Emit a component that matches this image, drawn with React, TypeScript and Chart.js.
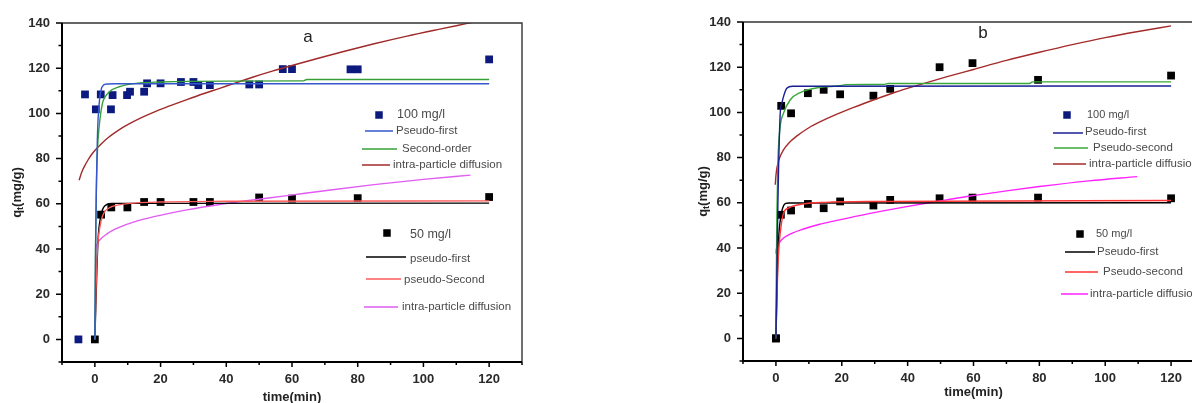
import React, { useEffect, useRef } from 'react';
import { Chart, registerables } from 'chart.js';
Chart.register(...registerables);

// ---------- Panel a data ----------
const aT100 = [-5, -3, 0.3, 1.8, 4.9, 5.4, 9.8, 10.7, 15, 15.9, 20, 26.2, 30, 31.5, 35, 47, 50, 57.2, 60, 77.8, 80, 120];
const aQ100 = [0, 108.4, 101.8, 108.4, 101.8, 108.1, 108.1, 109.6, 109.6, 113.3, 113.3, 113.9, 113.9, 112.5, 112.5, 112.8, 112.8, 119.6, 119.6, 119.5, 119.5, 123.9];
const aT50 = [0, 1.9, 5, 9.9, 15, 20, 30, 35, 50, 60, 80, 120];
const aQ50 = [0, 55.2, 58.4, 58.4, 60.8, 60.8, 60.8, 60.8, 62.8, 62.3, 62.5, 63];

const aPF100T = [0, 0.25, 0.5, 0.75, 1, 1.5, 2, 2.5, 3, 4, 6, 120];
const aPF100Q = [0, 44, 71, 88, 98, 107, 111, 112.3, 112.8, 113, 113.1, 113.1];
const aPS100T = [0, 0.1, 0.2, 0.4, 0.8, 1.3, 2.3, 3, 4.4, 7.4, 12.5, 20, 40, 63.5, 64.5, 120];
const aPS100Q = [0, 20, 40, 62, 83.7, 94, 104.4, 107, 109.6, 111.8, 113.3, 113.9, 114.3, 114.4, 115, 115];
const aID100T = [-4.8, -4, -3, -2, -1, 0, 2, 4, 7, 10, 14, 18, 23, 28, 33, 38, 42, 48, 54, 60, 68, 76, 85, 95, 105, 113, 117];
const aID100Q = [70.4, 74, 77, 79.6, 81.8, 83.6, 86.6, 89.2, 92.4, 95.0, 98.0, 100.6, 103.4, 106.1, 108.7, 111.1, 113.1, 116.0, 118.7, 121.2, 124.4, 127.5, 130.8, 134.2, 137.3, 139.7, 140.9];

const aPF50T = [0, 0.3, 0.6, 1, 1.5, 2, 2.5, 3, 3.8, 5, 120];
const aPF50Q = [0, 15, 30, 45, 52, 56, 58, 59, 59.8, 60.2, 60.3];
const aPS50T = [0, 0.3, 0.6, 1, 1.5, 2.2, 3, 4.5, 6.8, 10, 20, 40, 120];
const aPS50Q = [0, 20, 35, 44, 49.5, 54, 56.5, 58.3, 59.4, 60.1, 60.8, 61.1, 61.3];
const aID50T = [0.2, 0.5, 1.5, 3.8, 7.8, 12, 18, 28, 38, 48, 58, 70, 85, 100, 114.3];
const aID50Q = [38.7, 41.6, 44, 46.8, 49.8, 52, 54.3, 57.3, 59.7, 61.7, 63.5, 65.8, 68.5, 70.8, 72.7];

// ---------- Panel b data ----------
const bT100 = [0, 1.6, 4.6, 9.7, 14.5, 19.5, 29.6, 34.7, 49.7, 59.7, 79.6, 120];
const bQ100 = [0, 102.9, 99.6, 108.5, 110, 108, 107.4, 110.4, 120, 121.8, 114.4, 116.3];
const bT50 = [0, 1.5, 4.6, 9.7, 14.5, 19.5, 29.6, 34.7, 49.7, 59.7, 79.6, 120];
const bQ50 = [0, 54.7, 56.6, 59.5, 57.6, 60.6, 58.8, 61.3, 62, 62.3, 62.3, 62];

const bPF100T = [0, 0.3, 0.6, 0.8, 1.3, 1.8, 2.3, 3.3, 5, 120];
const bPF100Q = [0, 30, 60, 75, 99.6, 104, 107, 110.7, 111.6, 111.7];
const bPS100T = [0, 0.1, 0.3, 0.6, 1.3, 2.3, 4.3, 7.4, 13.5, 20, 21, 33, 34, 77, 78, 120];
const bPS100Q = [0, 25, 55, 78, 93.7, 99.6, 105.5, 108.8, 111.1, 111.9, 112.3, 112.4, 112.8, 112.8, 113.5, 113.5];
const bID100T = [-0.2, 0, 0.3, 1, 2.3, 4, 6.4, 10, 13.5, 18, 23.6, 30, 36, 44, 52, 60, 70, 80, 90, 100, 110, 120];
const bID100Q = [68, 72, 75.5, 79.5, 83.4, 86.6, 89.6, 93.2, 95.9, 98.9, 102.2, 105.7, 108.8, 112.4, 115.8, 119, 123, 126.6, 130, 133.1, 135.8, 138.3];

const bPF50T = [0, 0.3, 0.6, 1, 1.5, 2, 2.8, 4, 120];
const bPF50Q = [0, 20, 38, 48, 54, 57.5, 59.6, 59.9, 60];
const bPS50T = [0, 0.3, 0.6, 1, 1.5, 2.3, 4, 8.4, 15, 30, 120];
const bPS50Q = [0, 18, 32, 42, 49, 55.4, 57.8, 59.5, 60.2, 60.6, 61];
const bID50T = [0, 0.1, 1, 2.3, 5, 8.4, 13, 18.5, 28.6, 38.8, 48.9, 58, 70, 80, 95, 109.7];
const bID50Q = [37.5, 39.2, 42.3, 44.4, 46.6, 48.4, 50.4, 52.2, 55.3, 58.1, 60.6, 62.8, 65.3, 67.2, 69.7, 71.6];

// ---------- axis ticks ----------
const X_MIN = -10, X_MAX = 130, Y_MIN = -10, Y_MAX = 140;
const TICK_STEP = 10, LABEL_STEP = 20;

const FONT = '"Liberation Sans", Arial, sans-serif';

function zip(t: number[], q: number[]) {
  return t.map((x, i) => ({ x, y: q[i] }));
}

function lineDs(t: number[], q: number[], color: string) {
  return {
    data: zip(t, q),
    showLine: true,
    borderColor: color,
    backgroundColor: color,
    borderWidth: 1.4,
    pointRadius: 0,
    pointHoverRadius: 0,
    cubicInterpolationMode: 'monotone',
    fill: false,
  };
}

function pointDs(t: number[], q: number[], color: string) {
  return {
    data: zip(t, q),
    showLine: false,
    pointStyle: 'rect',
    pointRadius: 5.5,
    pointHoverRadius: 5.5,
    backgroundColor: color,
    borderColor: color,
    pointBorderWidth: 0,
    borderWidth: 0,
  };
}

type LegendItem = {
  kind: 'square' | 'line';
  color: string;
  x1: number;
  x2: number;
  y: number;
  text: string;
  tx: number;
  ty: number;
  size: number;
};

type PanelCfg = {
  left: number;
  padTop: number;
  padRight: number;
  yWidth: number;
  xHeight: number;
  datasets: any[];
  legend: LegendItem[];
  letter: { text: string; x: number; y: number };
  yTitleX: number;
  xTitleY: number;
};

const NAVY = '#0c1a80';

const panelA: PanelCfg = {
  left: 0,
  padTop: 23,
  padRight: 74,
  yWidth: 62,
  xHeight: 41,
  datasets: [
    lineDs(aPF100T, aPF100Q, '#3556cc'),
    lineDs(aPS100T, aPS100Q, '#35a035'),
    lineDs(aID100T, aID100Q, '#a02a2a'),
    lineDs(aPS50T, aPS50Q, '#ff5a5a'),
    lineDs(aPF50T, aPF50Q, '#000000'),
    lineDs(aID50T, aID50Q, '#e05cf2'),
    pointDs(aT100, aQ100, NAVY),
    pointDs(aT50, aQ50, '#000000'),
  ],
  legend: [
    { kind: 'square', color: NAVY, x1: 379, x2: 379, y: 115, text: '100 mg/l', tx: 397, ty: 115, size: 12.5 },
    { kind: 'line', color: '#3556cc', x1: 365, x2: 393, y: 131, text: 'Pseudo-first', tx: 396, ty: 131, size: 11.5 },
    { kind: 'line', color: '#35a035', x1: 362, x2: 397, y: 149, text: 'Second-order', tx: 402, ty: 149, size: 11.5 },
    { kind: 'line', color: '#a02a2a', x1: 362, x2: 390, y: 165, text: 'intra-particle diffusion', tx: 393, ty: 165, size: 11.5 },
    { kind: 'square', color: '#000000', x1: 387, x2: 387, y: 233, text: '50 mg/l', tx: 410, ty: 235, size: 12.5 },
    { kind: 'line', color: '#000000', x1: 366, x2: 406, y: 257, text: 'pseudo-first', tx: 410, ty: 259, size: 11.5 },
    { kind: 'line', color: '#ff5a5a', x1: 366, x2: 401, y: 279, text: 'pseudo-Second', tx: 404, ty: 280, size: 11.5 },
    { kind: 'line', color: '#e05cf2', x1: 364, x2: 398, y: 307, text: 'intra-particle diffusion', tx: 402, ty: 307, size: 11.5 },
  ],
  letter: { text: 'a', x: 308, y: 37 },
  yTitleX: 17,
  xTitleY: 397,
};

const panelB: PanelCfg = {
  left: 680,
  padTop: 22,
  padRight: 72,
  yWidth: 63,
  xHeight: 42,
  datasets: [
    lineDs(bPF100T, bPF100Q, '#1a1f96'),
    lineDs(bPS100T, bPS100Q, '#38a838'),
    lineDs(bID100T, bID100Q, '#a52a2a'),
    lineDs(bPS50T, bPS50Q, '#ff3535'),
    lineDs(bPF50T, bPF50Q, '#000000'),
    lineDs(bID50T, bID50Q, '#ff22ff'),
    pointDs(bT100, bQ100, '#000000'),
    pointDs(bT50, bQ50, '#000000'),
  ],
  legend: [
    { kind: 'square', color: NAVY, x1: 387, x2: 387, y: 115, text: '100 mg/l', tx: 407, ty: 115, size: 11 },
    { kind: 'line', color: '#1a1f96', x1: 373, x2: 403, y: 133, text: 'Pseudo-first', tx: 405, ty: 132, size: 11.5 },
    { kind: 'line', color: '#38a838', x1: 374, x2: 408, y: 148, text: 'Pseudo-second', tx: 413, ty: 148, size: 11.5 },
    { kind: 'line', color: '#a52a2a', x1: 373, x2: 406, y: 164, text: 'intra-particle diffusion', tx: 409, ty: 164, size: 11.5 },
    { kind: 'square', color: '#000000', x1: 400, x2: 400, y: 234, text: '50 mg/l', tx: 416, ty: 234, size: 11 },
    { kind: 'line', color: '#000000', x1: 385, x2: 415, y: 252, text: 'Pseudo-first', tx: 417, ty: 252, size: 11.5 },
    { kind: 'line', color: '#ff3535', x1: 385, x2: 418, y: 272, text: 'Pseudo-second', tx: 423, ty: 272, size: 11.5 },
    { kind: 'line', color: '#ff22ff', x1: 381, x2: 408, y: 294, text: 'intra-particle diffusion', tx: 410, ty: 294, size: 11.5 },
  ],
  letter: { text: 'b', x: 303, y: 33 },
  yTitleX: 23,
  xTitleY: 392,
};

function makeOverlay(cfg: PanelCfg) {
  return {
    id: 'overlay',
    afterDraw(chart: any) {
      const ctx: CanvasRenderingContext2D = chart.ctx;
      const { left, right, top, bottom } = chart.chartArea;
      const xs = chart.scales.x;
      const ys = chart.scales.y;
      ctx.save();

      // frame
      ctx.strokeStyle = '#333';
      ctx.lineWidth = 1.4;
      ctx.beginPath();
      ctx.moveTo(left, top);
      ctx.lineTo(right, top);
      ctx.lineTo(right, bottom);
      ctx.stroke();
      ctx.strokeStyle = '#000';
      ctx.lineWidth = 2;
      ctx.beginPath();
      ctx.moveTo(left, top);
      ctx.lineTo(left, bottom);
      ctx.lineTo(right, bottom);
      ctx.stroke();

      // ticks
      ctx.lineWidth = 1.5;
      ctx.beginPath();
      for (let v = Y_MIN; v <= Y_MAX; v += TICK_STEP) {
        const p = ys.getPixelForValue(v);
        const len = v % LABEL_STEP === 0 ? 6 : 3.5;
        ctx.moveTo(left - len, p);
        ctx.lineTo(left, p);
      }
      for (let v = X_MIN; v <= X_MAX; v += TICK_STEP) {
        const p = xs.getPixelForValue(v);
        const len = v % LABEL_STEP === 0 ? 5 : 3;
        ctx.moveTo(p, bottom);
        ctx.lineTo(p, bottom + len);
      }
      ctx.stroke();

      // y title: q_t(mg/g)
      ctx.fillStyle = '#222';
      ctx.translate(cfg.yTitleX, (top + bottom) / 2);
      ctx.rotate(-Math.PI / 2);
      ctx.textBaseline = 'middle';
      const big = `bold 13px ${FONT}`;
      const small = `bold 9px ${FONT}`;
      ctx.font = big;
      const wq = ctx.measureText('q').width;
      const wr = ctx.measureText('(mg/g)').width;
      ctx.font = small;
      const wt = ctx.measureText('t').width;
      let sx = -(wq + wt + wr) / 2;
      ctx.font = big;
      ctx.textAlign = 'left';
      ctx.fillText('q', sx, 0);
      sx += wq;
      ctx.font = small;
      ctx.fillText('t', sx, 4);
      sx += wt;
      ctx.font = big;
      ctx.fillText('(mg/g)', sx, 0);
      ctx.setTransform(1, 0, 0, 1, 0, 0);

      // x title
      ctx.font = `bold 13px ${FONT}`;
      ctx.textAlign = 'center';
      ctx.textBaseline = 'middle';
      ctx.fillText('time(min)', (left + right) / 2, cfg.xTitleY);

      // panel letter
      ctx.font = `17px ${FONT}`;
      ctx.fillStyle = '#222';
      ctx.fillText(cfg.letter.text, cfg.letter.x, cfg.letter.y);

      // legend
      for (const it of cfg.legend) {
        if (it.kind === 'square') {
          const s = 7.5;
          ctx.fillStyle = it.color;
          ctx.fillRect(it.x1 - s / 2, it.y - s / 2, s, s);
        } else {
          ctx.strokeStyle = it.color;
          ctx.lineWidth = 1.5;
          ctx.beginPath();
          ctx.moveTo(it.x1, it.y);
          ctx.lineTo(it.x2, it.y);
          ctx.stroke();
        }
        ctx.fillStyle = '#4a4a4a';
        ctx.font = `${it.size}px ${FONT}`;
        ctx.textAlign = 'left';
        ctx.textBaseline = 'middle';
        ctx.fillText(it.text, it.tx, it.ty);
      }
      ctx.restore();
    },
  };
}

function Panel({ cfg }: { cfg: PanelCfg }) {
  const ref = useRef<HTMLCanvasElement | null>(null);
  useEffect(() => {
    if (!ref.current) return;
    const tickFont = { family: FONT, size: 13, weight: 'bold' as const };
    const chart = new Chart(ref.current, {
      type: 'scatter',
      data: { datasets: cfg.datasets },
      options: {
        animation: false,
        responsive: false,
        maintainAspectRatio: false,
        devicePixelRatio: 1,
        layout: { padding: { left: 0, right: cfg.padRight, top: cfg.padTop, bottom: 0 } },
        plugins: { legend: { display: false }, tooltip: { enabled: false }, title: { display: false } },
        events: [],
        scales: {
          x: {
            type: 'linear',
            min: X_MIN,
            max: X_MAX,
            grid: { display: false, drawTicks: false },
            border: { display: false },
            ticks: {
              stepSize: TICK_STEP,
              autoSkip: false,
              maxRotation: 0,
              minRotation: 0,
              padding: 10,
              color: '#2a2a2a',
              font: tickFont,
              callback: (v: any) => (Number(v) % LABEL_STEP === 0 ? String(v) : ''),
            },
            afterFit: (s: any) => {
              s.height = cfg.xHeight;
            },
          },
          y: {
            type: 'linear',
            min: Y_MIN,
            max: Y_MAX,
            grid: { display: false, drawTicks: false },
            border: { display: false },
            ticks: {
              stepSize: TICK_STEP,
              autoSkip: false,
              padding: 12,
              color: '#2a2a2a',
              font: tickFont,
              callback: (v: any) => (Number(v) % LABEL_STEP === 0 ? String(v) : ''),
            },
            afterFit: (s: any) => {
              s.width = cfg.yWidth;
            },
          },
        },
      } as any,
      plugins: [makeOverlay(cfg)],
    });
    return () => chart.destroy();
  }, [cfg]);
  return (
    <canvas
      ref={ref}
      width={596}
      height={403}
      style={{ position: 'absolute', left: cfg.left, top: 0, width: 596, height: 403 }}
    />
  );
}

export default function App() {
  return (
    <div
      style={{
        position: 'absolute',
        left: 0,
        top: 0,
        width: 1192,
        height: 403,
        overflow: 'hidden',
        background: '#ffffff',
      }}
    >
      <Panel cfg={panelA} />
      <Panel cfg={panelB} />
    </div>
  );
}
